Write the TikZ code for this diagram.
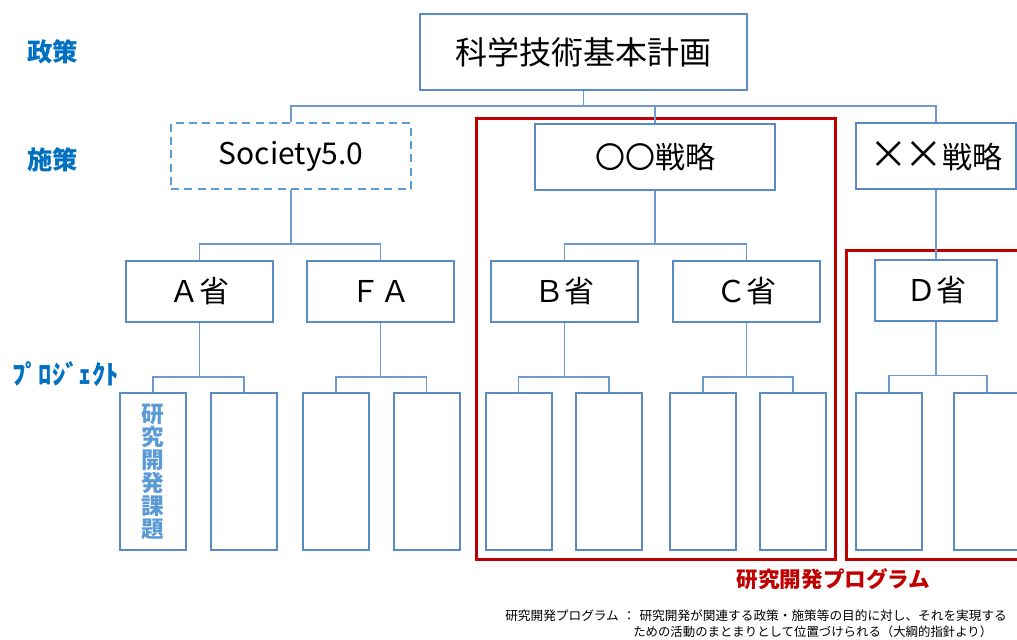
\documentclass[tikz,border=0pt]{standalone}
\usepackage{fontspec}
\setmainfont{Noto Sans CJK JP}
\definecolor{boxblue}{HTML}{5A8AC6}
\definecolor{lineblue}{HTML}{6F9ACF}
\definecolor{dashblue}{HTML}{5B9BD5}
\definecolor{lblblue}{HTML}{0070C0}
\definecolor{taskblue}{HTML}{5B9BD5}
\definecolor{progred}{HTML}{C00000}
\begin{document}
\begin{tikzpicture}[x=0.75pt,y=-0.75pt,
  box/.style={draw=boxblue,line width=1.5pt,fill=white,inner sep=0pt,text=black},
  dashbox/.style={draw=dashblue,line width=1.5pt,dash pattern=on 6pt off 4pt,fill=white,inner sep=0pt,text=black},
  lvlone/.style={minimum width=245.25pt,minimum height=57pt,font=\fontsize{24}{26}\selectfont},
  lvltwo/.style={minimum width=180pt,minimum height=49.5pt,font=\fontsize{22.5}{26}\selectfont},
  lvlthree/.style={minimum width=110.25pt,minimum height=45.75pt,font=\fontsize{22.5}{26}\selectfont},
  projbox/.style={box,minimum width=49.5pt,minimum height=117.75pt},
  conn/.style={draw=lineblue,line width=1.1pt},
  redframe/.style={draw=progred,line width=2.25pt},
  sidelabel/.style={text=lblblue,font=\bfseries\fontsize{19}{22}\selectfont,inner sep=0pt}
]
\useasboundingbox (0,0) rectangle (1017,639);
\clip (0,0) rectangle (1017,639);

% red programme frames
\draw[redframe] (476,118) rectangle (835,559);
\draw[redframe] (1030,250) -- (846,250) -- (846,559) -- (1030,559);

% boxes
\node[box,lvlone] (plan) at (583.5,52) {科学技術基本計画};
\node[dashbox,lvltwo] (soc) at (291,156) {Society5.0};
\node[box,lvltwo] (oo) at (655,157) {〇〇戦略};
\node[box,lvltwo,minimum width=120pt] (xx) at (936,156) {{\fontsize{29}{26}\selectfont×\kern-3pt×}戦略};

\node[box,lvlthree] (A) at (199.5,291.5) {Ａ省};
\node[box,lvlthree] (FA) at (380.5,291.5) {ＦＡ};
\node[box,lvlthree] (B) at (564.5,291.5) {Ｂ省};
\node[box,lvlthree] (C) at (746.5,291.5) {Ｃ省};
\node[box,lvlthree,minimum width=91.5pt] (D) at (936,290) {Ｄ省};

\node[projbox] (p1) at (153,471.5) {};
\node[projbox] (p2) at (244,471.5) {};
\node[projbox] (p3) at (336,471.5) {};
\node[projbox] (p4) at (426.5,471.5) {};
\node[projbox] (p5) at (518.5,471.5) {};
\node[projbox] (p6) at (609,471.5) {};
\node[projbox] (p7) at (703,471.5) {};
\node[projbox] (p8) at (793,471.5) {};
\node[projbox] (p9) at (889,471) {};
\node[projbox] (p10) at (987,471) {};

\node[text=taskblue,font=\bfseries\fontsize{17}{17.2}\selectfont,align=center,inner sep=0pt] (task) at (153,472) {研\\究\\開\\発\\課\\題};

% connectors
\draw[conn] (plan.south) -- ++(0,15) -| (soc.north);
\draw[conn] (plan.south) -- ++(0,15) -| (oo.north);
\draw[conn] (plan.south) -- ++(0,15) -| (xx.north);

\draw[conn] (soc.south) -- ++(0,54) -| (A.north);
\draw[conn] (soc.south) -- ++(0,54) -| (FA.north);
\draw[conn] (oo.south) -- ++(0,53) -| (B.north);
\draw[conn] (oo.south) -- ++(0,53) -| (C.north);
\draw[conn] (xx.south) -- (D.north);

\draw[conn] (A.south) -- ++(0,54) -| (p1.north);
\draw[conn] (A.south) -- ++(0,54) -| (p2.north);
\draw[conn] (FA.south) -- ++(0,54) -| (p3.north);
\draw[conn] (FA.south) -- ++(0,54) -| (p4.north);
\draw[conn] (B.south) -- ++(0,54) -| (p5.north);
\draw[conn] (B.south) -- ++(0,54) -| (p6.north);
\draw[conn] (C.south) -- ++(0,54) -| (p7.north);
\draw[conn] (C.south) -- ++(0,54) -| (p8.north);
\draw[conn] (D.south) -- ++(0,54) -| (p9.north);
\draw[conn] (D.south) -- ++(0,54) -| (p10.north);

% side labels
\node[sidelabel,anchor=west] (l1) at (27,52) {政策};
\node[sidelabel,anchor=west] (l2) at (27,160) {施策};
\node[sidelabel,anchor=west,font=\bfseries\fontsize{20}{22}\selectfont] (l3) at (12,374) {ﾌﾟﾛｼﾞｪｸﾄ};

% programme label and note
\node[text=progred,font=\bfseries\fontsize{16.2}{18}\selectfont,inner sep=0pt] (prog) at (833.5,579) {研究開発プログラム};
\node[anchor=west,inner sep=0pt,font=\fontsize{9.5}{11}\selectfont] (note1) at (505,616) {研究開発プログラム\hspace{3pt}：\hspace{3pt}研究開発が関連する政策・施策等の目的に対し、それを実現する};
\node[anchor=west,inner sep=0pt,font=\fontsize{9.3}{11}\selectfont] (note2) at (633,632) {ための活動のまとまりとして位置づけられる（大綱的指針より）};
\end{tikzpicture}
\end{document}
